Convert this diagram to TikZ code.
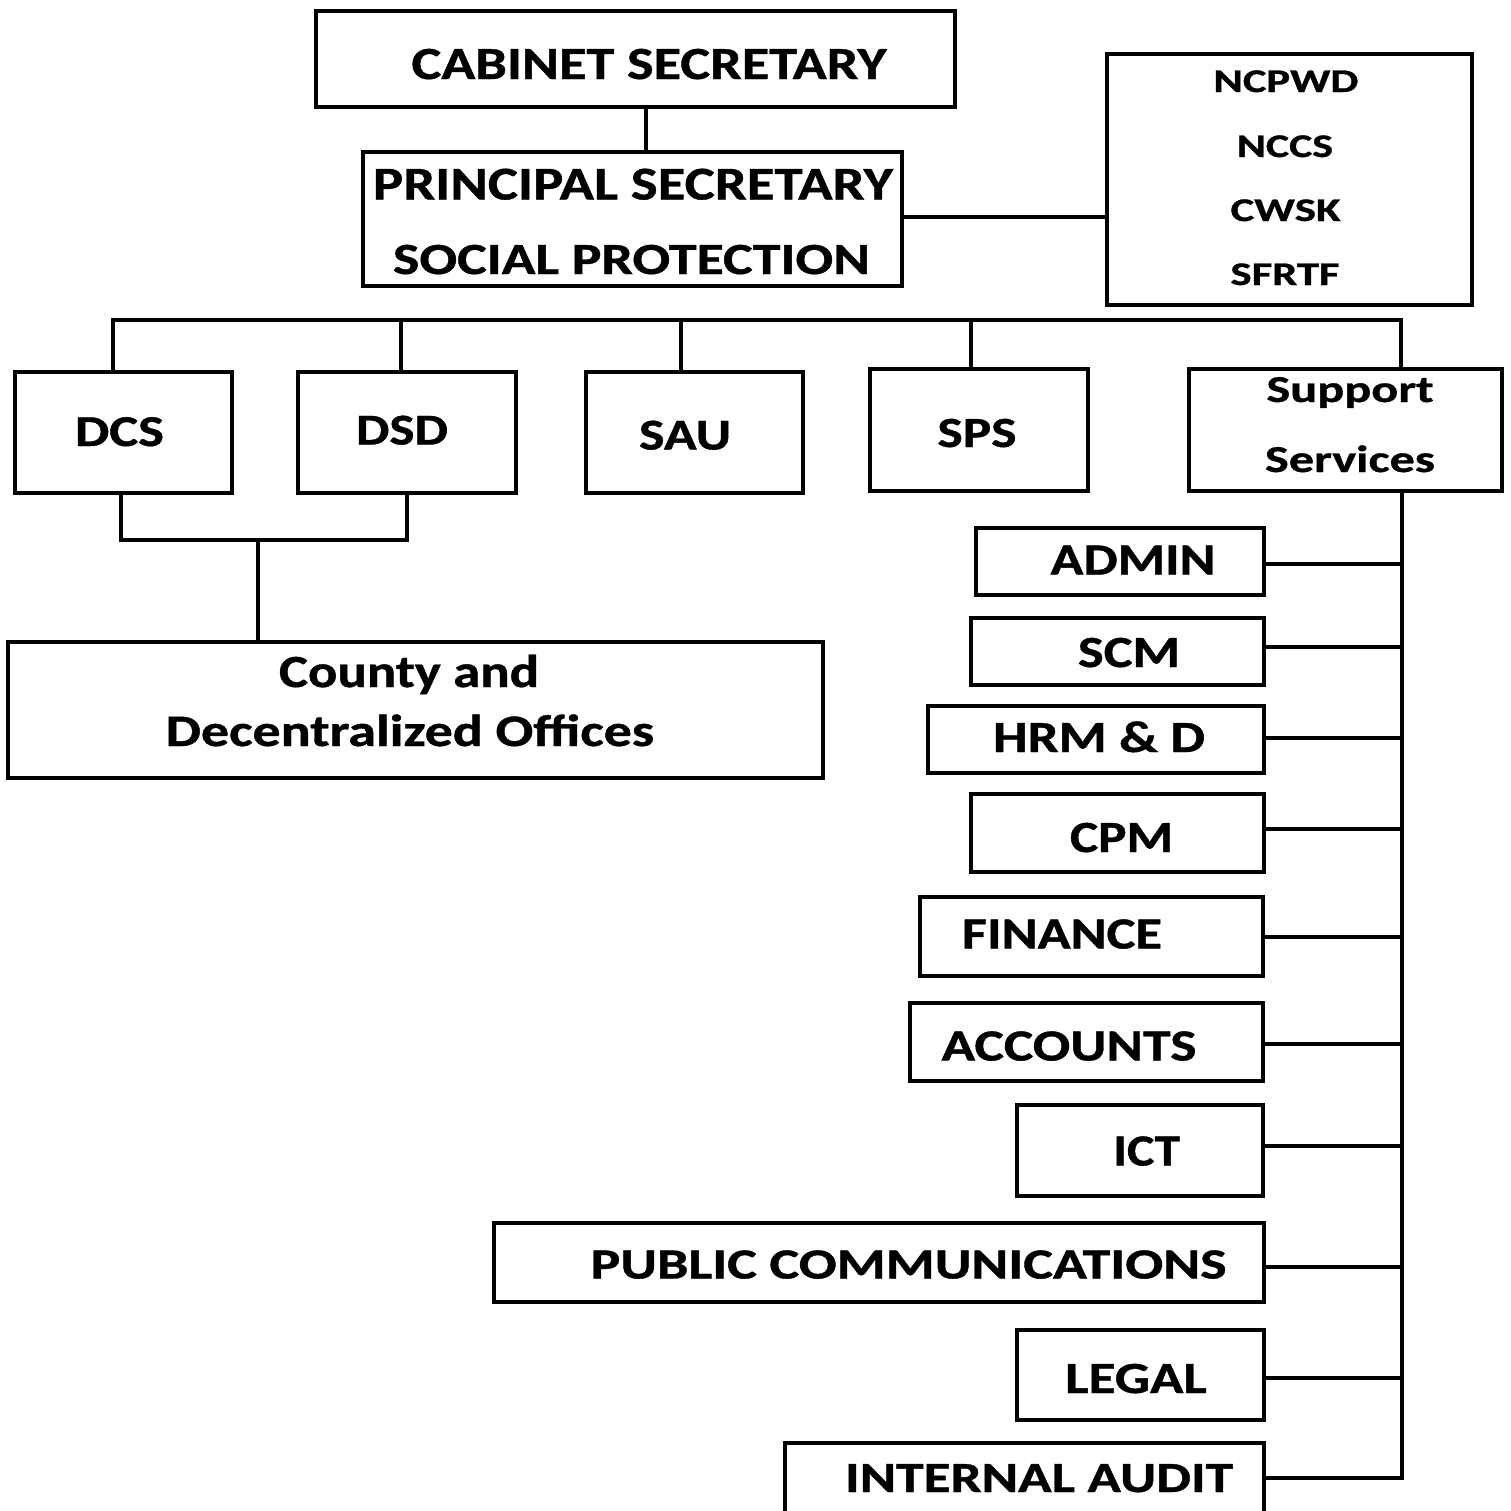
\documentclass[tikz,border=0pt]{standalone}
\usepackage{fontspec}
\setmainfont{Carlito}[BoldFeatures={FakeBold=0.8}]
\usepackage{graphicx}
\tikzset{
  bx/.style={draw, line width=4.5pt, rectangle, inner sep=0pt, outer sep=0pt},
  ln/.style={line width=4.5pt},
  txt/.style={inner sep=0pt, outer sep=0pt, anchor=base}
}
\newcommand\tx[6]{\node[txt, font=\bfseries\fontsize{#4}{#4}\selectfont] (#1) at (#2,#3) {\resizebox{#5pt}{\height}{#6}};}
\newcommand\bxat[5]{\node[bx, minimum width=#4pt, minimum height=#5pt] (#1) at (#2,#3) {};}
\begin{document}
\begin{tikzpicture}[x=1pt,y=-1pt]
\useasboundingbox (0,0) rectangle (1511,1510);
\clip (0,0) rectangle (1511,1510);
% boxes
\bxat{cab}{635.5}{59}{639}{96}
\bxat{ps}{632.5}{219}{539}{134}
\bxat{ag}{1289.5}{179.5}{365}{251}
\bxat{dcs}{123.5}{432.5}{217}{121}
\bxat{dsd}{407}{432.5}{218}{121}
\bxat{sau}{694.5}{432.5}{217}{121}
\bxat{sps}{979}{430}{218}{122}
\bxat{sup}{1345.5}{430}{313}{122}
\bxat{county}{415.5}{710}{815}{136}
\bxat{admin}{1120}{561.5}{288}{67}
\bxat{scm}{1117.5}{651.5}{293}{67}
\bxat{hrm}{1096}{739.5}{336}{67}
\bxat{cpm}{1117.5}{833}{293}{78}
\bxat{fin}{1091.5}{936.5}{343}{79}
\bxat{acc}{1086.5}{1042}{353}{78}
\bxat{ict}{1140}{1150.5}{246}{91}
\bxat{pub}{879}{1262.5}{770}{79}
\bxat{legal}{1140.5}{1375}{247}{90}
\bxat{audit}{1024.5}{1486.5}{479}{87}
% texts
\tx{cabT}{649}{79}{46}{475}{CABINET SECRETARY}
\tx{psT1}{633}{199.5}{47}{520}{PRINCIPAL SECRETARY}
\tx{psT2}{631.5}{274}{44.5}{477}{SOCIAL PROTECTION}
\tx{agT1}{1286}{92}{33}{145}{NCPWD}
\tx{agT2}{1285}{157}{33}{96}{NCCS}
\tx{agT3}{1285.5}{221}{33}{110}{CWSK}
\tx{agT4}{1285}{285}{33}{109}{SFRTF}
\tx{dcsT}{119.5}{446}{44}{89}{DCS}
\tx{dsdT}{402}{444.5}{44}{92}{DSD}
\tx{sauT}{685}{449.5}{44}{92}{SAU}
\tx{spsT}{977}{447}{43}{79}{SPS}
\tx{supT1}{1350}{402}{38}{167}{Support}
\tx{supT2}{1350}{472}{38}{170}{Services}
\tx{countyT1}{409}{687}{46}{260}{County and}
\tx{countyT2}{410}{746}{45}{488.6}{Decentralized Offices}
\tx{adminT}{1133}{574.5}{44.5}{165}{ADMIN}
\tx{scmT}{1129}{667}{44.5}{102}{SCM}
\tx{hrmT}{1099}{752}{44.5}{212}{HRM \& D}
\tx{cpmT}{1121.5}{852}{44.5}{103}{CPM}
\tx{finT}{1062}{948.5}{44.5}{200}{FINANCE}
\tx{accT}{1069}{1060.5}{44.5}{255}{ACCOUNTS}
\tx{ictT}{1146.7}{1165.5}{44.5}{67}{ICT}
\tx{pubT}{908.6}{1278.5}{43}{636}{PUBLIC COMMUNICATIONS}
\tx{legalT}{1136}{1393}{44.5}{141.5}{LEGAL}
\tx{auditT}{1039}{1492}{43}{388}{INTERNAL AUDIT}
% helper coordinates
\coordinate (xc) at (646,0);
\coordinate (yag) at (0,217);
\coordinate (busL) at (113,320);
\coordinate (busR) at (1401,320);
\coordinate (xdsd) at (401,0);
\coordinate (xsau) at (681,0);
\coordinate (xsps) at (971,0);
\coordinate (jL) at (121,540);
\coordinate (jR) at (407,540);
\coordinate (jM) at (258,540);
\coordinate (sp) at (1402,0);
\coordinate (spEnd) at (1402,1478);
% connectors
\draw[ln] (cab.south -| xc) -- (ps.north -| xc);
\draw[ln] (ps.east |- yag) -- (ag.west |- yag);
\draw[ln] (dcs.north -| busL) -- (busL) -- (busR) -- (sup.north -| busR);
\draw[ln] (dsd.north -| xdsd) -- (xdsd |- busL);
\draw[ln] (sau.north -| xsau) -- (xsau |- busL);
\draw[ln] (sps.north -| xsps) -- (xsps |- busL);
\draw[ln] (dcs.south -| jL) -- (jL) -- (jR) -- (dsd.south -| jR);
\draw[ln] (jM) -- (county.north -| jM);
\draw[ln] (sup.south -| sp) -- (spEnd) -- (audit.east |- spEnd);
\foreach \n/\y in {admin/564, scm/647, hrm/738, cpm/829, fin/937, acc/1044, ict/1146, pub/1267, legal/1378}
  \draw[ln] (\n.east |- 0,\y) -- (1402,\y);
\end{tikzpicture}
\end{document}
